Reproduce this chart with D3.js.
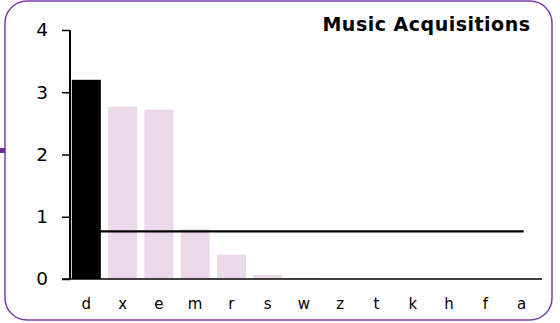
<!DOCTYPE html>
<html>
<head>
<meta charset="utf-8">
<script src="https://cdn.jsdelivr.net/npm/d3@7"></script>
<style>
  html, body { margin: 0; padding: 0; background: #fff; }
  svg { display: block; }
  svg text { font-family: "DejaVu Sans", "Bitstream Vera Sans", sans-serif; }
</style>
</head>
<body>
<svg id="chart" width="560" height="323"></svg>
<script>
// Acquisitions per category
const categories = ["d", "x", "e", "m", "r", "s", "w", "z", "t", "k", "h", "f", "a"];
const values     = [3.2, 2.77, 2.72, 0.8, 0.39, 0.065, 0.02, 0, 0, 0, 0, 0, 0];
const yTicks     = [0, 1, 2, 3, 4];
const highlight  = "d";
const title      = "Music Acquisitions";
const FONT       = "DejaVu Sans";

const svg = d3.select("#chart");

// Rounded frame and the small tab on its left edge
svg.append("rect")
  .attr("x", 5).attr("y", 1)
  .attr("width", 547).attr("height", 319)
  .attr("rx", 22).attr("ry", 22)
  .attr("fill", "#fff")
  .attr("stroke", "#7d3cb0")
  .attr("stroke-width", 1.5);
svg.append("rect")
  .attr("x", 0).attr("y", 148)
  .attr("width", 5).attr("height", 5)
  .attr("fill", "#6b2a9c");

const x = d3.scaleBand()
  .domain(categories)
  .range([70, 538])
  .paddingInner(0.2)
  .paddingOuter(0.05);

const y = d3.scaleLinear()
  .domain([0, 4])
  .range([279, 30]);

const data = categories.map((c, i) => ({ c, v: values[i] }));
const mean = d3.mean(values);

// Bars
svg.append("g")
  .selectAll("rect")
  .data(data)
  .join("rect")
  .attr("x", d => x(d.c))
  .attr("y", d => y(d.v))
  .attr("width", x.bandwidth())
  .attr("height", d => y(0) - y(d.v))
  .attr("fill", d => d.c === highlight ? "#000" : "#ebd9eb");

// Average line across the categories
svg.append("line")
  .attr("x1", x(categories[0]) + x.bandwidth() / 2)
  .attr("x2", x(categories[categories.length - 1]) + x.bandwidth() / 2 + 2)
  .attr("y1", y(mean)).attr("y2", y(mean))
  .attr("stroke", "#000")
  .attr("stroke-width", 2.2);

// Y axis
const yAxis = svg.append("g")
  .attr("transform", "translate(70,0)")
  .call(d3.axisLeft(y).tickValues(yTicks).tickFormat(d3.format("d")).tickSize(8).tickPadding(14))
  .attr("font-family", FONT)
  .attr("font-size", 18.5);
yAxis.select(".domain").attr("d", `M0,${y(4)}V${y(0)}`).attr("stroke-width", 2);
yAxis.selectAll(".tick line").attr("stroke-width", 1.5);
yAxis.selectAll("text").attr("fill", "#000");

// X axis
const xAxis = svg.append("g")
  .attr("transform", `translate(0,${y(0)})`)
  .call(d3.axisBottom(x).tickSize(0).tickPadding(19))
  .attr("font-family", FONT)
  .attr("font-size", 15);
xAxis.select(".domain").attr("d", "M62,0H542").attr("stroke-width", 1.5);
xAxis.selectAll("text").attr("fill", "#000");

// Title
svg.append("text")
  .attr("x", 530.5).attr("y", 31)
  .attr("text-anchor", "end")
  .attr("font-family", FONT)
  .attr("font-size", 19)
  .attr("font-weight", "bold")
  .attr("letter-spacing", 0.5)
  .text(title);
</script>
</body>
</html>
